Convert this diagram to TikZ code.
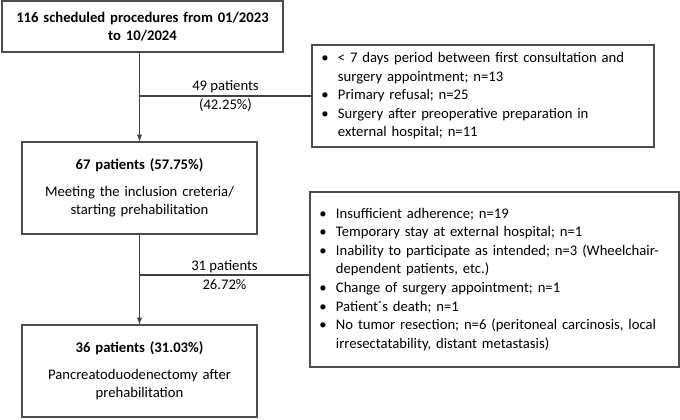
\documentclass[tikz,border=0pt]{standalone}
\usepackage{fontspec}
\setmainfont{Carlito}
\usetikzlibrary{arrows}

\begin{document}
\begin{tikzpicture}[x=0.75pt,y=-0.75pt]
\tikzset{flowbox/.style={draw=black!70,line width=0.8pt,align=center,inner sep=0pt,text width=176.25pt,minimum height=69pt}}
\tikzset{listbox/.style={draw=black!70,line width=0.8pt,align=left,inner xsep=7pt,inner ysep=0pt}}
\tikzset{flow/.style={draw=black!75,line width=0.8pt}}
\tikzset{count/.style={align=center,font=\fontsize{11}{14.3}\selectfont}}

\fontsize{11}{13.9}\selectfont
\useasboundingbox (0,0) rectangle (680,419);

\node[flowbox,text width=210.75pt,minimum height=38.25pt,font=\bfseries] (start) at (142.5,26.5) {116 scheduled procedures from 01/2023\\to 10/2024};

\node[flowbox] (prehab) at (139.5,188) {\textbf{67 patients (57.75\%)}\\[6pt]Meeting the inclusion creteria/\\starting prehabilitation};

\node[flowbox] (surgery) at (139.5,371) {\textbf{36 patients (31.03\%)}\\[6pt]Pancreatoduodenectomy after\\prehabilitation};

\node[listbox,text width=242.5pt,minimum height=76.5pt] (excl) at (483,96) {%
\begin{tabular}{@{}l@{\hspace{7pt}}l@{}}
\textbullet & < 7 days period between first consultation and\\
 & surgery appointment; n=13\\
\textbullet & Primary refusal; n=25\\
\textbullet & Surgery after preoperative preparation in\\
 & external hospital; n=11
\end{tabular}};

\node[listbox,text width=262.75pt,minimum height=131.25pt] (dropout) at (494.5,279.5) {%
\begin{tabular}{@{}l@{\hspace{7pt}}l@{}}
\textbullet & Insufficient adherence; n=19\\
\textbullet & Temporary stay at external hospital; n=1\\
\textbullet & Inability to participate as intended; n=3 (Wheelchair-\\
 & dependent patients, etc.)\\
\textbullet & Change of surgery appointment; n=1\\
\textbullet & Patient´s death; n=1\\
\textbullet & No tumor resection; n=6 (peritoneal carcinosis, local\\
 & irresectatability, distant metastasis)
\end{tabular}};

\draw[flow,-latex] (start.south -| prehab.north) -- (prehab.north);
\draw[flow] (excl.west -| prehab.north) -- (excl.west) node[count,midway] {49 patients\\(42.25\%)};

\draw[flow,-latex] (prehab.south) -- (surgery.north);
\draw[flow] ([yshift=3.4pt]dropout.west -| prehab.south) -- ([yshift=3.4pt]dropout.west) node[count,midway] {31 patients\\26.72\%};

\end{tikzpicture}
\end{document}
